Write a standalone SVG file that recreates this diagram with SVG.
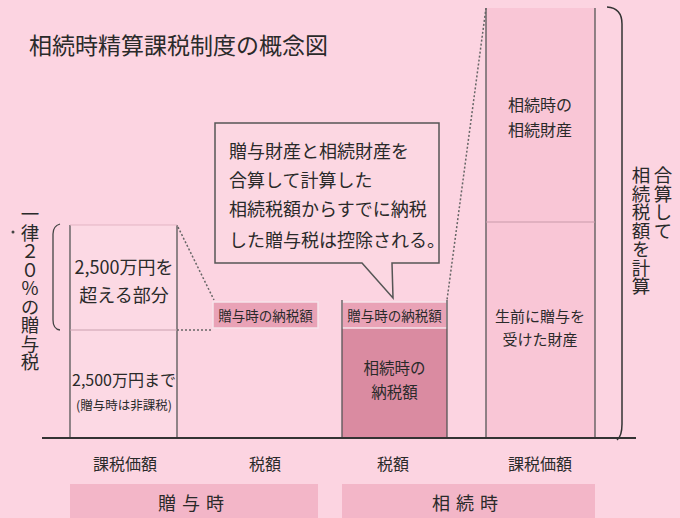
<svg xmlns="http://www.w3.org/2000/svg" width="680" height="518" viewBox="0 0 680 518">
<style>
text{font-family:"Noto Sans CJK JP","Noto Sans",sans-serif;fill:#2a2a2a}
.col{stroke:#555;stroke-width:1.3}
.dot{fill:none;stroke:#666;stroke-width:1.5;stroke-dasharray:2 2}
.lbl{fill:#e9a2b6;stroke:#f6e3ea;stroke-width:1.5}
.c{text-anchor:middle}
.v{writing-mode:vertical-rl;text-orientation:upright}
</style>
<rect width="680" height="518" fill="#fcd4e1"/>
<text x="29" y="54" font-size="23">相続時精算課税制度の概念図</text>

<g id="left-bar">
<rect x="70" y="225" width="107" height="213" fill="#fcd9e4"/>
<line class="col" x1="70" y1="225" x2="70" y2="438"/>
<line class="col" x1="177" y1="225" x2="177" y2="438"/>
<line x1="70" y1="225" x2="177" y2="225" stroke="#e3b5c3" stroke-width="1"/>
<line x1="70" y1="330" x2="177" y2="330" stroke="#c9a0ae" stroke-width="1"/>
<text class="c" x="124" y="274" font-size="18">2,500万円を</text>
<text class="c" x="124" y="302" font-size="18">超える部分</text>
<text class="c" x="124" y="386" font-size="16">2,500万円まで</text>
<text class="c" x="124" y="410" font-size="12.5">(贈与時は非課税)</text>
</g>

<g id="left-bracket">
<path d="M60 224 Q53 226 53 234 L53 320 Q53 329 60 330" fill="none" stroke="#444" stroke-width="1.3"/>
<text class="v" x="30" y="205" font-size="18.5">一律２０％の贈与税</text>
<circle cx="13" cy="232" r="1.5" fill="#444"/>
</g>

<g id="gift-tax">
<rect class="lbl" x="213" y="302" width="105" height="26"/>
<text class="c" x="265.5" y="321" font-size="13.5">贈与時の納税額</text>
</g>

<g id="inherit-tax">
<rect x="342" y="328" width="105" height="110" fill="#da8ba1"/>
<rect class="lbl" x="342" y="302" width="105" height="26"/>
<line class="col" x1="342" y1="300" x2="342" y2="438"/>
<line class="col" x1="447" y1="300" x2="447" y2="438"/>
<text class="c" x="394.5" y="321" font-size="13.5">贈与時の納税額</text>
<text class="c" x="394.5" y="374" font-size="15.5" fill="#3a2a30">相続時の</text>
<text class="c" x="394.5" y="398" font-size="15.5" fill="#3a2a30">納税額</text>
</g>

<g id="right-bar">
<rect x="486" y="8" width="109" height="430" fill="#f9c6d6"/>
<line class="col" x1="486" y1="8" x2="486" y2="438"/>
<line class="col" x1="595" y1="8" x2="595" y2="438"/>
<line x1="486" y1="222" x2="595" y2="222" stroke="#c99aaa" stroke-width="1.2"/>
<text class="c" x="540" y="111" font-size="16">相続時の</text>
<text class="c" x="540" y="136" font-size="16">相続財産</text>
<text class="c" x="540" y="322" font-size="15">生前に贈与を</text>
<text class="c" x="540" y="345" font-size="15">受けた財産</text>
</g>

<g id="right-bracket">
<path d="M607 7 Q622 8 622 24 L622 424 Q622 436 617 440" fill="none" stroke="#333" stroke-width="1.5"/>
<text class="v" x="663" y="166" font-size="18.5">合算して</text>
<text class="v" x="641" y="166" font-size="18.5">相続税額を計算</text>
</g>

<g id="callout">
<path d="M215 123 L439 123 L439 263 L392 263 L393 298 L362 263 L215 263 Z" fill="#fcd7e2" stroke="#555" stroke-width="1.5"/>
<text x="229" y="158" font-size="18">贈与財産と相続財産を</text>
<text x="229" y="187" font-size="18">合算して計算した</text>
<text x="229" y="216" font-size="18">相続税額からすでに納税</text>
<text x="229" y="247" font-size="18">した贈与税は控除される。</text>
</g>

<g id="connectors">
<line class="dot" x1="178" y1="227" x2="214" y2="300"/>
<line class="dot" x1="177" y1="330" x2="213" y2="330"/>
<line class="dot" x1="486" y1="8" x2="447" y2="300"/>
<line x1="42" y1="438" x2="636" y2="438" stroke="#333" stroke-width="2"/>
</g>

<g id="axis-labels">
<text class="c" x="125" y="470" font-size="16">課税価額</text>
<text class="c" x="265" y="470" font-size="16">税額</text>
<text class="c" x="393" y="470" font-size="16">税額</text>
<text class="c" x="540" y="470" font-size="16">課税価額</text>
</g>

<g id="band-gift">
<rect x="70" y="484" width="248" height="34" fill="#f3b6c8"/>
<text class="c" x="194" y="510" font-size="18" letter-spacing="6">贈与時</text>
</g>
<g id="band-inherit">
<rect x="342" y="484" width="253" height="34" fill="#f3b6c8"/>
<text class="c" x="468" y="510" font-size="18" letter-spacing="6">相続時</text>
</g>
</svg>
